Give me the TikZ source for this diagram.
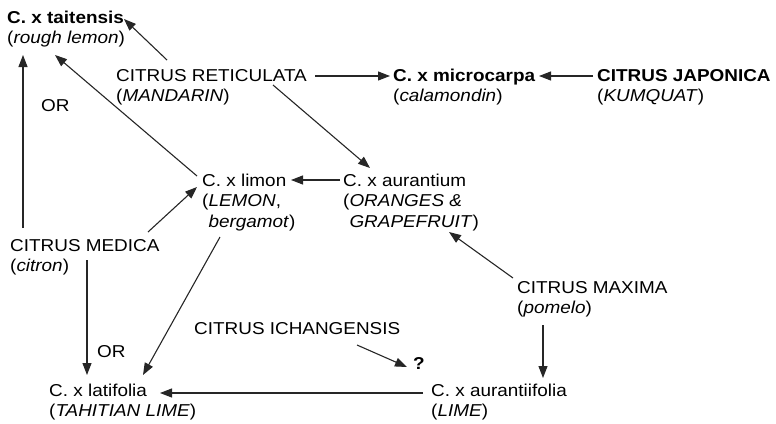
\documentclass[tikz,border=0pt]{standalone}
\usepackage{fontspec}
\setmainfont{Liberation Sans}[FakeStretch=1.1]
\usepackage{tikz}
\usetikzlibrary{arrows.meta}
\tikzset{
  taxon/.style = {anchor=base west, align=left, inner sep=0pt,
                  font=\fontsize{17.2}{20.5}\selectfont},
  arr/.style   = {-{Triangle[length=12pt,width=9pt]}, line width=1.1pt, draw=black!85}
}

\begin{document}
\begin{tikzpicture}[x=1pt, y=-1pt]
  \useasboundingbox (0,0) rectangle (776,423);
  % species and hybrids (placed at the baseline of their last line)
  \node[taxon] (taitensis)     at (7,43.5)    {\textbf{C. x taitensis}\\(\textit{rough lemon})};
  \node[taxon] (reticulata)    at (116,101.5) {CITRUS RETICULATA\\(\textit{MANDARIN})};
  \node[taxon] (microcarpa)    at (393,101.5) {\textbf{C. x microcarpa}\\(\textit{calamondin})};
  \node[taxon] (japonica)      at (597,101.5) {\textbf{CITRUS JAPONICA}\\(\textit{KUMQUAT\/})};
  \node[taxon] (limon)         at (202,227)   {C. x limon\\(\textit{LEMON},\\\phantom{(}\textit{bergamot})};
  \node[taxon] (aurantium)     at (343,227)   {C. x aurantium\\(\textit{ORANGES \&}\\\phantom{(}\textit{GRAPEFRUIT\/})};
  \node[taxon] (medica)        at (10,271.5)  {CITRUS MEDICA\\(\textit{citron})};
  \node[taxon] (maxima)        at (517,313.5) {CITRUS MAXIMA\\(\textit{pomelo})};
  \node[taxon] (ichangensis)   at (194,334)   {CITRUS ICHANGENSIS};
  \node[taxon] (unknown)       at (413,369)   {\textbf{?}};
  \node[taxon] (latifolia)     at (49,416.5)  {C. x latifolia\\(\textit{TAHITIAN LIME})};
  \node[taxon] (aurantiifolia) at (431,416.5) {C. x aurantiifolia\\(\textit{LIME})};
  \node[taxon] (orA)           at (41,111)    {OR};
  \node[taxon] (orB)           at (97,357)    {OR};
  % crosses
  \draw[arr] ([xshift=51pt,yshift=41.5pt]reticulata.base west) -- ([xshift=117pt,yshift=24.5pt]taitensis.base west);
  \draw[arr] ([xshift=-5pt,yshift=51pt]limon.base west) -- ([xshift=48pt,yshift=-11.5pt]taitensis.base west);
  \draw[arr] ([xshift=13pt,yshift=43.5pt]medica.base west) -- ([xshift=16pt,yshift=-11.5pt]taitensis.base west);
  \draw[arr] ([xshift=199pt,yshift=25.5pt]reticulata.base west) -- ([xshift=-3pt,yshift=25.5pt]microcarpa.base west);
  \draw[arr] ([xshift=-4pt,yshift=25.5pt]japonica.base west) -- ([xshift=146pt,yshift=25.5pt]microcarpa.base west);
  \draw[arr] ([xshift=157pt,yshift=16.5pt]reticulata.base west) -- ([xshift=27pt,yshift=59pt]aurantium.base west);
  \draw[arr] ([xshift=-3pt,yshift=47pt]aurantium.base west) -- ([xshift=89pt,yshift=47pt]limon.base west);
  \draw[arr] ([xshift=138pt,yshift=39.5pt]medica.base west) -- ([xshift=-5pt,yshift=40pt]limon.base west);
  \draw[arr] ([xshift=18pt,yshift=-10pt]limon.base west) -- ([xshift=94pt,yshift=41.5pt]latifolia.base west);
  \draw[arr] ([xshift=77pt,yshift=11.5pt]medica.base west) -- ([xshift=38pt,yshift=41.5pt]latifolia.base west);
  \draw[arr] ([xshift=-4pt,yshift=35.5pt]maxima.base west) -- ([xshift=106pt,yshift=-5pt]aurantium.base west);
  \draw[arr] ([xshift=26pt,yshift=-11.5pt]maxima.base west) -- ([xshift=112pt,yshift=38.5pt]aurantiifolia.base west);
  \draw[arr] ([xshift=163pt,yshift=-11pt]ichangensis.base west) -- ([xshift=-6pt,yshift=2pt]unknown.base west);
  \draw[arr] ([xshift=-8pt,yshift=23.5pt]aurantiifolia.base west) -- ([xshift=111pt,yshift=23.5pt]latifolia.base west);
\end{tikzpicture}
\end{document}
